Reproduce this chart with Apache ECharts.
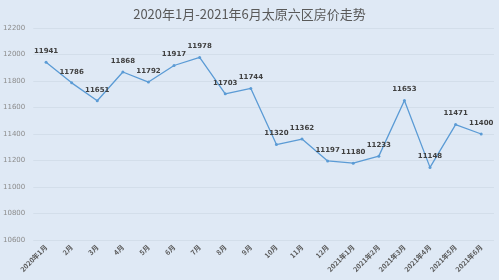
<!DOCTYPE html>
<html><head><meta charset="utf-8">
<script src="https://cdn.jsdelivr.net/npm/echarts@6/dist/echarts.min.js"></script>
<style>html,body{margin:0;padding:0;background:#dfe9f5;}#c{width:499px;height:280px;}</style>
</head><body><div id="c"></div>
<script>
const categories = ['2020年1月','2月','3月','4月','5月','6月','7月','8月','9月','10月','11月','12月','2021年1月','2021年2月','2021年3月','2021年4月','2021年5月','2021年6月'];
const prices = [11941,11786,11651,11868,11792,11917,11978,11703,11744,11320,11362,11197,11180,11233,11653,11148,11471,11400];
const yMin = 10600, yMax = 12200, yStep = 200;
const chart = echarts.init(document.getElementById('c'));
chart.setOption({
  backgroundColor: '#dfe9f5',
  animation: false,
  title: {text: '2020年1月-2021年6月太原六区房价走势', left: 'center', top: 3,
    textStyle: {fontSize: 13, fontWeight: 'normal', color: '#595959', fontFamily: 'Noto Sans CJK SC'}},
  grid: {left: 30, right: 5, top: 28, bottom: 40},
  xAxis: {type: 'category', data: categories, boundaryGap: true,
    axisLine: {show: false}, axisTick: {show: false},
    axisLabel: {rotate: 45, fontSize: 7, color: '#595959', fontWeight: 'bold', margin: 6, interval: 0, fontFamily: 'Noto Sans CJK SC'}},
  yAxis: {type: 'value', min: yMin, max: yMax, interval: yStep,
    axisLine: {show: false}, axisTick: {show: false},
    axisLabel: {fontSize: 7, color: '#8c8c8c', margin: 8, fontFamily: 'DejaVu Sans', formatter: v => String(v)},
    splitLine: {lineStyle: {color: '#d3deea', width: 1}}},
  series: [{type: 'line', data: prices, symbol: 'circle', symbolSize: 3,
    lineStyle: {color: '#5b9bd5', width: 1.3}, itemStyle: {color: '#5b9bd5'},
    label: {show: true, position: 'top', fontSize: 7, fontWeight: 'bold', color: '#404040', distance: 6, fontFamily: 'DejaVu Sans'}}]
});
</script></body></html>
